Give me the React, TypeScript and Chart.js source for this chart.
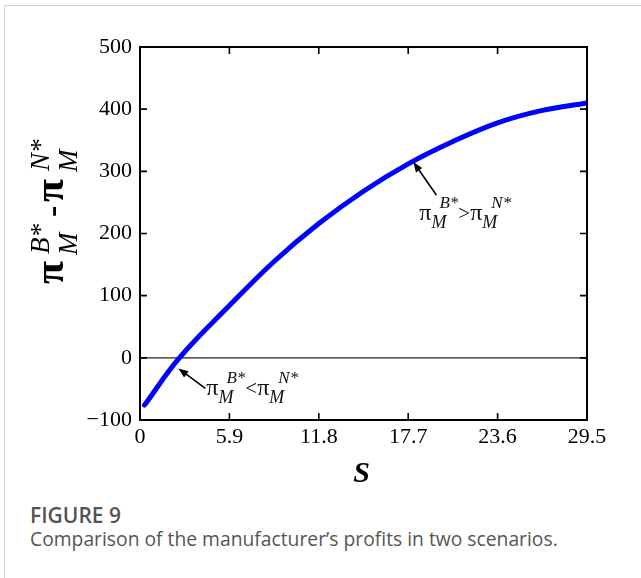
import React, { useEffect, useRef } from "react";
import { Chart, registerables } from "chart.js";

Chart.register(...registerables);

// ---- data ----
const sValues = [0.3, 2.6, 5.9, 8.85, 11.8, 14.75, 17.7, 20.65, 23.6, 26.55, 29.5];
const profitDiff = [-76, 0, 84, 155, 216, 268, 312, 348, 378, 398, 410];
const xTickValues = [0, 5.9, 11.8, 17.7, 23.6, 29.5];
const xTickLabels = ["0", "5.9", "11.8", "17.7", "23.6", "29.5"];
const yTickValues = [-100, 0, 100, 200, 300, 400, 500];
const yTickLabels = ["\u2212100", "0", "100", "200", "300", "400", "500"];
const arrowTipS = [2.53, 18.04];
const arrowTipV = [-17, 315];
const arrowRelations = ["<", ">"];

const SERIF = "'Liberation Serif', 'Times New Roman', serif";

type Item =
  | { kind: "text"; text: string; font: string; at?: number; gap?: number; dy?: number }
  | {
      kind: "stack";
      sub: string;
      sup: string;
      subFont: string;
      supFont: string;
      subDy: number;
      supDy: number;
      supDx: number;
      at?: number;
      gap?: number;
    };

function drawMath(ctx: CanvasRenderingContext2D, x: number, y: number, items: Item[]) {
  let cx = x;
  ctx.textAlign = "left";
  ctx.textBaseline = "alphabetic";
  for (const it of items) {
    if (it.at !== undefined) cx = x + it.at;
    if (it.kind === "text") {
      ctx.font = it.font;
      ctx.fillText(it.text, cx, y + (it.dy || 0));
      cx += ctx.measureText(it.text).width + (it.gap || 0);
    } else {
      ctx.font = it.subFont;
      ctx.fillText(it.sub, cx, y + it.subDy);
      const w1 = ctx.measureText(it.sub).width;
      ctx.font = it.supFont;
      ctx.fillText(it.sup, cx + it.supDx, y + it.supDy);
      const w2 = ctx.measureText(it.sup).width + it.supDx;
      cx += Math.max(w1, w2) + (it.gap || 0);
    }
  }
}

function drawArrow(ctx: CanvasRenderingContext2D, x0: number, y0: number, x1: number, y1: number) {
  const ang = Math.atan2(y1 - y0, x1 - x0);
  const hl = 10;
  const hw = 3.8;
  ctx.strokeStyle = "#000";
  ctx.fillStyle = "#000";
  ctx.lineWidth = 1.6;
  ctx.beginPath();
  ctx.moveTo(x0, y0);
  ctx.lineTo(x1 - Math.cos(ang) * hl * 0.8, y1 - Math.sin(ang) * hl * 0.8);
  ctx.stroke();
  ctx.beginPath();
  ctx.moveTo(x1, y1);
  ctx.lineTo(
    x1 - Math.cos(ang) * hl + Math.sin(ang) * hw,
    y1 - Math.sin(ang) * hl - Math.cos(ang) * hw
  );
  ctx.lineTo(
    x1 - Math.cos(ang) * hl - Math.sin(ang) * hw,
    y1 - Math.sin(ang) * hl + Math.cos(ang) * hw
  );
  ctx.closePath();
  ctx.fill();
}

const annTail = [
  [27, 20],
  [23, 33],
];
const annText = [
  [28, 27],
  [6, 58],
];

const decorPlugin = {
  id: "decor",
  beforeDatasetsDraw(chart: any) {
    const { ctx, chartArea, scales } = chart;
    const y0 = scales.y.getPixelForValue(0);
    ctx.save();
    ctx.strokeStyle = "#222";
    ctx.lineWidth = 1.3;
    ctx.beginPath();
    ctx.moveTo(chartArea.left, y0);
    ctx.lineTo(chartArea.right, y0);
    ctx.stroke();
    ctx.restore();
  },
  afterDraw(chart: any) {
    const { ctx, chartArea, scales } = chart;
    const { left, right, top, bottom } = chartArea;
    ctx.save();
    // frame
    ctx.strokeStyle = "#000";
    ctx.lineWidth = 2;
    ctx.strokeRect(left, top, right - left, bottom - top);
    // inward ticks
    const tl = 7;
    ctx.lineWidth = 1.6;
    ctx.beginPath();
    for (const v of xTickValues) {
      const px = scales.x.getPixelForValue(v);
      ctx.moveTo(px, bottom);
      ctx.lineTo(px, bottom - tl);
      ctx.moveTo(px, top);
      ctx.lineTo(px, top + tl);
    }
    for (const v of yTickValues) {
      const py = scales.y.getPixelForValue(v);
      ctx.moveTo(left, py);
      ctx.lineTo(left + tl, py);
      ctx.moveTo(right, py);
      ctx.lineTo(right - tl, py);
    }
    ctx.stroke();

    // annotations
    for (let i = 0; i < arrowTipS.length; i++) {
      const tx = scales.x.getPixelForValue(arrowTipS[i]);
      const ty = scales.y.getPixelForValue(arrowTipV[i]);
      drawArrow(ctx, tx + annTail[i][0], ty + annTail[i][1], tx, ty);
      ctx.fillStyle = "#111";
      const piF = `24px ${SERIF}`;
      const base = `21px ${SERIF}`;
      const small = `italic 17px ${SERIF}`;
      drawMath(ctx, tx + annText[i][0], ty + annText[i][1], [
        { kind: "text", text: "\u03c0", font: piF, gap: 0 },
        { kind: "stack", sub: "M", sup: "B*", subFont: `italic 18px ${SERIF}`, supFont: small, subDy: 8, supDy: -12, supDx: 8 },
        { kind: "text", text: arrowRelations[i], font: base },
        { kind: "text", text: "\u03c0", font: piF },
        { kind: "stack", sub: "M", sup: "N*", subFont: `italic 18px ${SERIF}`, supFont: small, subDy: 8, supDy: -12, supDx: 9 },
      ]);
    }

    // x title
    ctx.fillStyle = "#000";
    ctx.font = `italic bold 30px ${SERIF}`;
    ctx.textAlign = "center";
    ctx.textBaseline = "alphabetic";
    ctx.fillText("S", (left + right) / 2 - 2, bottom + 62);

    // y title (rotated)
    ctx.save();
    ctx.translate(63, 284);
    ctx.rotate(-Math.PI / 2);
    ctx.fillStyle = "#000";
    const big = `bold 42px ${SERIF}`;
    const dash = `bold 34px ${SERIF}`;
    const it27 = `italic 27px ${SERIF}`;
    drawMath(ctx, 0, 0, [
      { kind: "text", text: "\u03c0", font: big, at: 0 },
      { kind: "stack", sub: "M", sup: "B*", subFont: it27, supFont: it27, subDy: 14, supDy: -14, supDx: 1, at: 29 },
      { kind: "text", text: "-", font: dash, at: 67 },
      { kind: "text", text: "\u03c0", font: big, at: 82 },
      { kind: "stack", sub: "M", sup: "N*", subFont: it27, supFont: it27, subDy: 14, supDy: -14, supDx: 1, at: 112 },
    ]);
    ctx.restore();

    ctx.restore();
  },
};

export default function App() {
  const ref = useRef<HTMLCanvasElement | null>(null);

  useEffect(() => {
    if (!ref.current) return;
    const chart = new Chart(ref.current, {
      type: "line",
      data: {
        datasets: [
          {
            data: sValues.map((s, i) => ({ x: s, y: profitDiff[i] })),
            borderColor: "#0000ff",
            borderWidth: 5,
            pointRadius: 0,
            fill: false,
            tension: 0.4,
            borderCapStyle: "round",
          } as any,
        ],
      },
      options: {
        animation: false,
        responsive: false,
        maintainAspectRatio: false,
        layout: { padding: { top: 47, right: 54, left: 0, bottom: 0 } },
        plugins: { legend: { display: false }, tooltip: { enabled: false } },
        scales: {
          x: {
            type: "linear",
            min: 0,
            max: 29.5,
            afterBuildTicks: (sc: any) => {
              sc.ticks = xTickValues.map((v) => ({ value: v }));
            },
            afterFit: (sc: any) => {
              sc.height = 80;
            },
            ticks: {
              callback: (_v: any, i: number) => xTickLabels[i],
              font: { family: SERIF, size: 22 },
              color: "#000",
              padding: 4,
              maxRotation: 0,
              autoSkip: false,
            },
            grid: { display: false, drawTicks: false },
            border: { display: false },
          },
          y: {
            type: "linear",
            min: -100,
            max: 500,
            afterBuildTicks: (sc: any) => {
              sc.ticks = yTickValues.map((v) => ({ value: v }));
            },
            afterFit: (sc: any) => {
              sc.width = 140;
            },
            ticks: {
              callback: (_v: any, i: number) => yTickLabels[i],
              font: { family: SERIF, size: 22 },
              color: "#000",
              padding: 8,
              autoSkip: false,
            },
            grid: { display: false, drawTicks: false },
            border: { display: false },
          },
        },
      } as any,
      plugins: [decorPlugin],
    });
    return () => chart.destroy();
  }, []);

  return (
    <div
      style={{
        position: "fixed",
        left: 0,
        top: 0,
        width: 641,
        height: 578,
        background: "#fff",
        overflow: "hidden",
      }}
    >
      <div
        style={{
          position: "absolute",
          left: 4,
          top: 5,
          right: 0,
          bottom: 0,
          borderLeft: "1px solid #cfcfcf",
          borderTop: "1px solid #cfcfcf",
        }}
      />
      <canvas
        ref={ref}
        width={641}
        height={500}
        style={{ position: "absolute", left: 0, top: 0, display: "block" }}
      />
      <div
        style={{
          position: "absolute",
          left: 30,
          top: 505,
          fontFamily: "'Open Sans', 'Noto Sans', sans-serif",
          fontWeight: 600,
          fontSize: 21,
          lineHeight: "21px",
          color: "#555",
          whiteSpace: "nowrap",
        }}
      >
        FIGURE 9
      </div>
      <div
        style={{
          position: "absolute",
          left: 30,
          top: 529,
          fontFamily: "'Open Sans', 'Noto Sans', sans-serif",
          fontWeight: 400,
          fontSize: 19.3,
          lineHeight: "19px",
          color: "#555",
          whiteSpace: "nowrap",
        }}
      >
        Comparison of the manufacturer’s profits in two scenarios.
      </div>
    </div>
  );
}
